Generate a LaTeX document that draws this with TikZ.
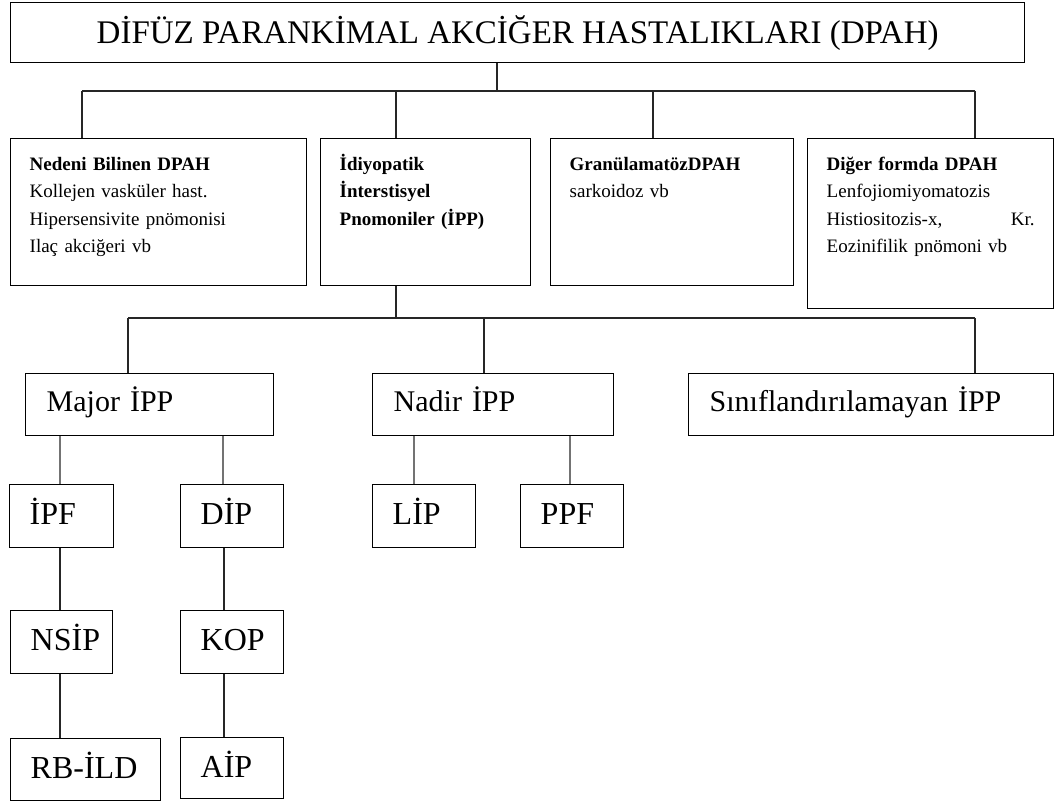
\documentclass[tikz,border=0pt]{standalone}
\usepackage{fontspec}
\setmainfont{Liberation Serif}
\usetikzlibrary{positioning}
\tikzset{%
boxframe/.style={draw,line width=1.4pt,anchor=north west,inner ysep=0pt},
infobox/.style={boxframe,align=left,inner xsep=19pt,text height=31.5pt,font=\fontsize{19}{27.5}\selectfont},
ippbox/.style={boxframe,align=left,inner xsep=21pt,text height=38pt,text depth=24pt,font=\fontsize{30}{36}\selectfont},
leafbox/.style={boxframe,align=left,inner xsep=20pt,text height=40pt,text depth=23pt,font=\fontsize{32}{38}\selectfont},
link/.style={line width=1.3pt,black!85},
softlink/.style={line width=1.7pt,black!55}
}
\hfuzz=20pt
\begin{document}
\begin{tikzpicture}[x=1pt,y=-1pt]
  \useasboundingbox (0,0) rectangle (1056,805);

  % top
  \node[boxframe,minimum width=1014pt,minimum height=60pt,font=\fontsize{33}{38}\selectfont]
    (title) at (10,2) {DİFÜZ PARANKİMAL AKCİĞER HASTALIKLARI (DPAH)};

  % four groups
  \node[infobox,text width=258pt,text depth=115.5pt] (nedeni) at (10,138)
    {\textbf{Nedeni Bilinen DPAH}\\Kollejen vasküler hast.\\Hipersensivite pnömonisi\\Ilaç akciğeri vb};
  \node[infobox,text width=172pt,text depth=115.5pt] (idiyo) at (320,138)
    {\textbf{İdiyopatik}\\\textbf{İnterstisyel}\\\textbf{Pnomoniler (İPP)}};
  \node[infobox,text width=205pt,text depth=115.5pt] (granul) at (550,138)
    {\textbf{GranülamatözDPAH}\\sarkoidoz vb};
  \node[infobox,text width=208pt,text depth=138.5pt] (diger) at (807,138)
    {\textbf{Diğer formda DPAH}\\Lenfojiomiyomatozis\\Histiositozis-x,\hfill Kr.\\Eozinifilik pnömoni vb};

  % IPP groups
  \node[ippbox,text width=206pt] (major) at (25,373) {Major İPP};
  \node[ippbox,text width=199pt] (nadir) at (372,373) {Nadir İPP};
  \node[ippbox,text width=323pt] (sinif) at (688,373) {Sınıflandırılamayan İPP};

  % leaves
  \node[leafbox,text width=64pt] (ipf) at (9,484) {İPF};
  \node[leafbox,text width=63pt] (dip) at (180,484) {DİP};
  \node[leafbox,text width=63pt] (lip) at (372,484) {LİP};
  \node[leafbox,text width=63pt] (ppf) at (520,484) {PPF};
  \node[leafbox,text width=62pt] (nsip) at (10,610) {NSİP};
  \node[leafbox,text width=63pt] (kop) at (180,610) {KOP};
  \node[leafbox,text width=110pt,text depth=22pt] (rbild) at (10,738) {RB-İLD};
  \node[leafbox,text width=63pt,text depth=21pt] (aip) at (180,737) {AİP};

  % connectors
  \coordinate (busA) at (82,91);
  \coordinate (busB) at (975,91);
  \draw[link] (title.south -| 497,0) -- (497,91);
  \draw[link] (busA) -- (busB);
  \draw[link] (busA) -- (nedeni.north -| busA);
  \draw[link] (396,91) -- (idiyo.north -| 396,0);
  \draw[link] (653,91) -- (granul.north -| 653,0);
  \draw[link] (busB) -- (diger.north -| busB);

  \coordinate (busC) at (128,318);
  \coordinate (busD) at (975,318);
  \draw[link] (idiyo.south -| 396,0) -- (396,318);
  \draw[link] (busC) -- (busD);
  \draw[link] (busC) -- (major.north -| busC);
  \draw[link] (484,318) -- (nadir.north -| 484,0);
  \draw[link] (busD) -- (sinif.north -| busD);

  \draw[softlink] (major.south -| 60,0) -- (ipf.north -| 60,0);
  \draw[softlink] (major.south -| 223,0) -- (dip.north -| 223,0);
  \draw[softlink] (nadir.south -| 414,0) -- (lip.north -| 414,0);
  \draw[softlink] (nadir.south -| 570,0) -- (ppf.north -| 570,0);
  \draw[link] (ipf.south -| 60,0) -- (nsip.north -| 60,0);
  \draw[link] (dip.south -| 224,0) -- (kop.north -| 224,0);
  \draw[link] (nsip.south -| 60,0) -- (rbild.north -| 60,0);
  \draw[link] (kop.south -| 224,0) -- (aip.north -| 224,0);
\end{tikzpicture}
\end{document}
